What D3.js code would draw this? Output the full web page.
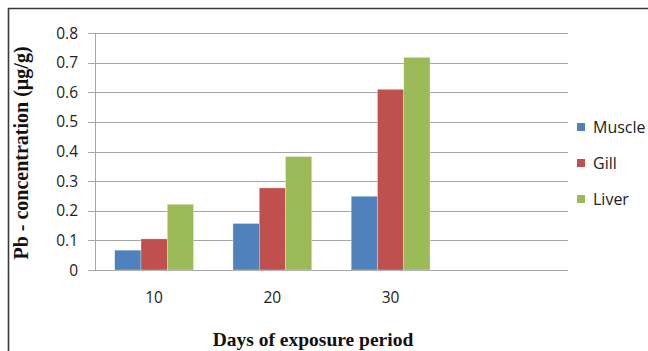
<!DOCTYPE html>
<html><head><meta charset="utf-8">
<script src="https://cdn.jsdelivr.net/npm/d3@7"></script>
<style>body{margin:0;background:#fff}svg{display:block}</style>
</head><body>
<script>
const categories = ["10", "20", "30", ""];
const seriesNames = ["Muscle", "Gill", "Liver"];
const muscle = [0.067, 0.157, 0.249, null];
const gill = [0.105, 0.277, 0.61, null];
const liver = [0.222, 0.383, 0.718, null];
const yTicks = [0, 0.1, 0.2, 0.3, 0.4, 0.5, 0.6, 0.7, 0.8];
const colors = ["#4F81BD", "#C0504D", "#9BBB59"];
const seriesValues = [muscle, gill, liver];

const W = 648, H = 351;
const svg = d3.select("body").append("svg").attr("width", W).attr("height", H);
const m = {left: 95, right: 568, top: 33, bottom: 270};

svg.append("path").attr("d", `M8.5,${H+5} V8.5 H${W+5}`).attr("fill", "none")
  .attr("stroke", "#3a3a3a").attr("stroke-width", 1.6);

const x = d3.scaleBand().domain(categories.map((c,i)=>i)).range([m.left, m.right]).paddingInner(0).paddingOuter(0);
const y = d3.scaleLinear().domain([0, 0.8]).range([m.bottom, m.top]);

// gridlines
svg.append("g").selectAll("line").data(yTicks).join("line")
  .attr("x1", m.left - 7).attr("x2", m.right)
  .attr("y1", d => Math.round(y(d)) + 0.5).attr("y2", d => Math.round(y(d)) + 0.5)
  .attr("stroke", "#a6a6a6").attr("stroke-width", 1);

// y axis line
svg.append("line").attr("x1", m.left + 0.5).attr("x2", m.left + 0.5)
  .attr("y1", m.top).attr("y2", m.bottom).attr("stroke", "#a6a6a6");

// y tick labels
svg.append("g").selectAll("text").data(yTicks).join("text")
  .attr("x", 78).attr("y", d => y(d)).attr("dy", "0.36em")
  .attr("text-anchor", "end").attr("font-family", "Open Sans").attr("font-size", 15.5)
  .attr("fill", "#222").text(d => d === 0 ? "0" : d3.format(".1f")(d));

// bars
const inner = d3.scaleBand().domain(seriesNames.map((s,i)=>i)).range([0, x.bandwidth()]).paddingOuter(0.75).paddingInner(0);
const groups = svg.append("g").selectAll("g").data(categories.map((c,i)=>i)).join("g")
  .attr("transform", i => `translate(${x(i)},0)`);
groups.selectAll("rect").data(i => seriesValues.map((s,j)=>({j, v: s[i]})).filter(d => d.v != null)).join("rect")
  .attr("x", d => inner(d.j)).attr("width", inner.bandwidth())
  .attr("y", d => y(d.v)).attr("height", d => y(0) - y(d.v))
  .attr("fill", d => colors[d.j]).attr("stroke", "#fff").attr("stroke-width", 0.5).attr("stroke-opacity", 0.6);

// x labels
svg.append("g").selectAll("text").data(categories.map((c,i)=>i)).join("text")
  .attr("x", i => x(i) + x.bandwidth()/2).attr("y", 303)
  .attr("text-anchor", "middle").attr("font-family", "Open Sans").attr("font-size", 15.5)
  .attr("fill", "#222").text(i => categories[i]);

// axis titles
svg.append("text").attr("transform", "translate(28,153) rotate(-90)")
  .attr("text-anchor", "middle").attr("font-family", "Liberation Serif").attr("font-weight", "bold")
  .attr("font-size", 20).attr("fill", "#111").text("Pb - concentration (µg/g)");
svg.append("text").attr("x", 313).attr("y", 346)
  .attr("text-anchor", "middle").attr("font-family", "Liberation Serif").attr("font-weight", "bold")
  .attr("font-size", 19.5).attr("fill", "#111").text("Days of exposure period");

// legend
const lg = svg.append("g").selectAll("g").data(seriesNames).join("g")
  .attr("transform", (d,i) => `translate(577,${127 + i*36})`);
lg.append("rect").attr("x", 0).attr("y", -4).attr("width", 8).attr("height", 8).attr("fill", (d,i) => colors[i]);
lg.append("text").attr("x", 16).attr("y", 0).attr("dy", "0.36em")
  .attr("font-family", "Open Sans").attr("font-size", 16).attr("fill", "#222").text(d => d);
</script>
</body></html>
